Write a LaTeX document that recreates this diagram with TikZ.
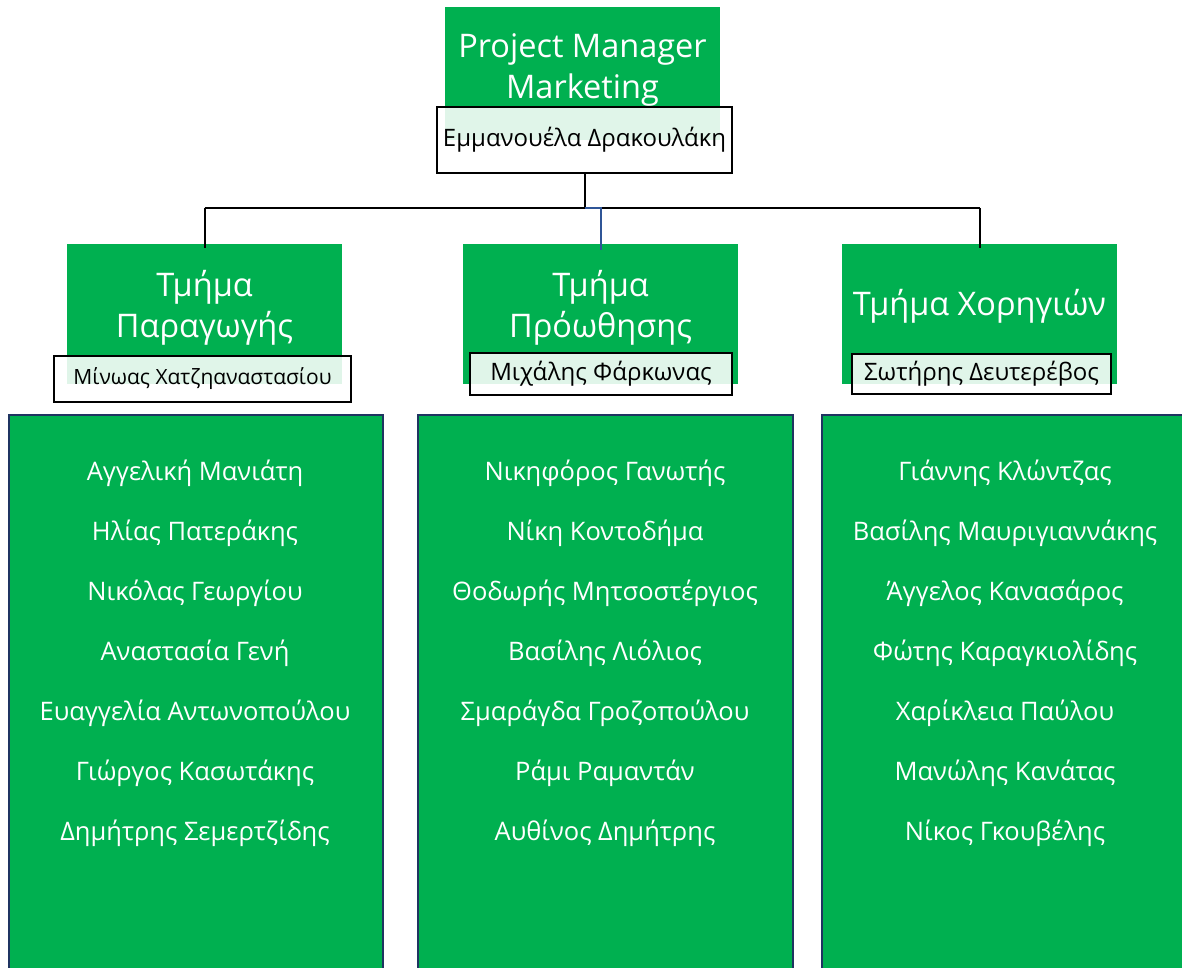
\documentclass[tikz,border=0pt]{standalone}
\usepackage{fontspec}
\setmainfont{Open Sans}
\definecolor{grn}{HTML}{00B050}
\definecolor{navy}{HTML}{1F3461}
\definecolor{bluel}{HTML}{2F5597}
\tikzset{
  greenbox/.style={fill=grn, draw=none, inner sep=0pt},
  namebox/.style={draw=black, line width=2pt, fill=white, fill opacity=0.88, text opacity=1, inner sep=0pt, font=\fontsize{24}{28}\selectfont},
  listbox/.style={fill=grn, draw=navy, line width=2.2pt, inner sep=0pt},
  titletext/.style={text=white, align=center, font=\fontsize{32.5}{41}\selectfont},
  persontext/.style={text=white, font=\fontsize{25.5}{30}\selectfont},
  conn/.style={draw=black, line width=2pt},
}
\begin{document}
\begin{tikzpicture}[x=1pt,y=-1pt]
\useasboundingbox (0,0) rectangle (1182,968);
\clip (0,0) rectangle (1182,968);
% top
\node[greenbox, minimum width=275pt, minimum height=133pt] (pm) at (582.5,73.5) {};
\node[titletext] (pmt) at (582.5,70) {Project Manager\\Marketing};
\node[namebox, minimum width=295pt, minimum height=66pt] (pmn) at (584.5,140) {Εμμανουέλα Δρακουλάκη};
% departments
\node[greenbox, minimum width=275pt, minimum height=140pt] (d1) at (204.5,314) {};
\node[greenbox, minimum width=275pt, minimum height=140pt] (d2) at (600.5,314) {};
\node[greenbox, minimum width=275pt, minimum height=140pt] (d3) at (979.5,314) {};
\node[titletext] (d1t) at (204.5,308) {Τμήμα\\Παραγωγής};
\node[titletext] (d2t) at (600.5,308) {Τμήμα\\Πρόωθησης};
\node[titletext] (d3t) at (979.5,306) {Τμήμα Χορηγιών};
\node[namebox, minimum width=297pt, minimum height=46pt, font=\fontsize{21}{25}\selectfont] (d1n) at (202.5,379) {Μίνωας Χατζηαναστασίου};
\node[namebox, minimum width=262pt, minimum height=42pt] (d2n) at (601,374) {Μιχάλης Φάρκωνας};
\node[namebox, minimum width=259pt, minimum height=40pt] (d3n) at (981.5,374) {Σωτήρης Δευτερέβος};
% connectors
\coordinate (hub) at (pmn.south |- 0,208);
\coordinate (hl) at (d1.north |- 0,208);
\coordinate (hr) at (d3.north |- 0,208);
\coordinate (hm) at (d2.north |- 0,208);
\draw[conn] (pmn.south) -- (hub);
\draw[conn] (hl) -- (hr);
\draw[conn] (hl) -- ([yshift=-4pt]d1.north);
\draw[conn] (hr) -- ([yshift=-4pt]d3.north);
\draw[draw=bluel, line width=2pt] (hub) -- (hm) -- ([yshift=-6pt]d2.north);
% lists
\node[listbox, minimum width=374pt, minimum height=600pt, anchor=north west] (l1) at (8,414) {};
\node[listbox, minimum width=375pt, minimum height=600pt, anchor=north west] (l2) at (417,414) {};
\node[listbox, minimum width=375pt, minimum height=600pt, anchor=north west] (l3) at (821,414) {};
\foreach \n [count=\i from 0] in {Αγγελική Μανιάτη, Ηλίας Πατεράκης, Νικόλας Γεωργίου, Αναστασία Γενή, Ευαγγελία Αντωνοπούλου, Γιώργος Κασωτάκης, Δημήτρης Σεμερτζίδης}
  \node[persontext] (a\i) at (195,473+60*\i) {\n};
\foreach \n [count=\i from 0] in {Νικηφόρος Γανωτής, Νίκη Κοντοδήμα, Θοδωρής Μητσοστέργιος, Βασίλης Λιόλιος, Σμαράγδα Γροζοπούλου, Ράμι Ραμαντάν, Αυθίνος Δημήτρης}
  \node[persontext] (b\i) at (605,473+60*\i) {\n};
\foreach \n [count=\i from 0] in {Γιάννης Κλώντζας, Βασίλης Μαυριγιαννάκης, Άγγελος Κανασάρος, Φώτης Καραγκιολίδης, Χαρίκλεια Παύλου, Μανώλης Κανάτας, Νίκος Γκουβέλης}
  \node[persontext] (c\i) at (1005,473+60*\i) {\n};
\end{tikzpicture}
\end{document}
